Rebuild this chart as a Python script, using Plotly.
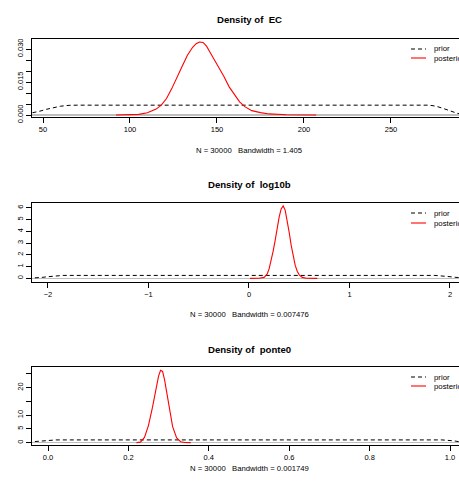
import plotly.graph_objects as go

# ---------------- data ----------------
# Panel 1: EC
ec_prior_x = [40, 44, 48, 52, 56, 60, 65, 70, 272, 276, 280, 284, 288, 292, 296]
ec_prior_y = [0.0004, 0.0009, 0.0017, 0.0026, 0.0034, 0.0040, 0.0044, 0.00448,
              0.00448, 0.0040, 0.0030, 0.0018, 0.0008, 0.0002, 0.0]
ec_post_x = [92, 100, 105, 110, 113, 115, 118, 121, 124, 127, 130, 133, 136, 138, 140,
             142, 144, 146, 148, 150, 152, 154, 157, 160, 163, 166, 170, 175, 180, 190, 207]
ec_post_y = [0.0, 0.0001, 0.0003, 0.0010, 0.0020, 0.0027, 0.0045, 0.0075, 0.0120, 0.0175,
             0.0222, 0.0272, 0.0308, 0.0324, 0.0332, 0.0330, 0.0313, 0.0285, 0.0258, 0.0234,
             0.0205, 0.0175, 0.0128, 0.0092, 0.0060, 0.0038, 0.0020, 0.0011, 0.0005, 0.0001, 0.0]

# Panel 2: log10b
lb_prior_x = [-2.2, -2.15, -2.1, -2.05, -2.0, -1.95, -1.9, -1.85,
              1.85, 1.9, 1.95, 2.0, 2.05, 2.1, 2.15, 2.2]
lb_prior_y = [0.0, 0.01, 0.04, 0.09, 0.14, 0.19, 0.23, 0.25,
              0.25, 0.23, 0.19, 0.14, 0.09, 0.04, 0.01, 0.0]
lb_post_x = [0.01, 0.10, 0.15, 0.18, 0.20, 0.22, 0.24, 0.26, 0.28, 0.30, 0.32, 0.34, 0.36,
             0.38, 0.40, 0.42, 0.44, 0.46, 0.48, 0.50, 0.53, 0.57, 0.68]
lb_post_y = [0.0, 0.005, 0.08, 0.35, 0.8, 1.5, 2.3, 3.2, 4.3, 5.2, 5.9, 6.15, 5.8,
             5.0, 3.9, 2.8, 1.8, 1.1, 0.6, 0.3, 0.08, 0.01, 0.0]

# Panel 3: ponte0
p0_prior_x = [-0.05, -0.04, -0.03, -0.02, -0.01, 0.0, 0.01, 0.02,
              0.98, 0.99, 1.0, 1.01, 1.02, 1.03, 1.04]
p0_prior_y = [0.2, 0.35, 0.5, 0.65, 0.8, 0.9, 0.97, 1.0,
              1.0, 0.95, 0.85, 0.65, 0.4, 0.2, 0.05]
p0_post_x = [0.22, 0.23, 0.24, 0.25, 0.26, 0.27, 0.275, 0.28, 0.285, 0.29, 0.30, 0.31,
             0.32, 0.33, 0.34, 0.355]
p0_post_y = [0.0, 0.2, 1.9, 6.3, 12.9, 21.0, 24.2, 26.3, 25.9, 22.8, 13.8, 5.8,
             1.7, 0.35, 0.05, 0.0]

titles = ["Density of\u00a0\u00a0EC", "Density of\u00a0\u00a0log10b", "Density of\u00a0\u00a0ponte0"]
xlabels = ["N = 30000\u00a0\u00a0\u00a0Bandwidth = 1.405",
           "N = 30000\u00a0\u00a0\u00a0Bandwidth = 0.007476",
           "N = 30000\u00a0\u00a0\u00a0Bandwidth = 0.001749"]

x1_ticks = [50, 100, 150, 200, 250]
x1_text = ["50", "100", "150", "200", "250"]
y1_ticks = [0.0, 0.005, 0.010, 0.015, 0.020, 0.025, 0.030]
y1_text = ["0.000", "", "", "0.015", "", "", "0.030"]

x2_ticks = [-2, -1, 0, 1, 2]
x2_text = ["\u22122", "\u22121", "0", "1", "2"]
y2_ticks = [0, 1, 2, 3, 4, 5, 6]
y2_text = ["0", "1", "2", "3", "4", "5", "6"]

x3_ticks = [0.0, 0.2, 0.4, 0.6, 0.8, 1.0]
x3_text = ["0.0", "0.2", "0.4", "0.6", "0.8", "1.0"]
y3_ticks = [0, 5, 10, 15, 20, 25]
y3_text = ["0", "5", "10", "", "20", ""]

legend_labels = ["prior", "posterior"]

# ---------------- layout helpers ----------------
W, H = 459, 482
L = 32
FONT = "Liberation Sans, Arial, Helvetica, sans-serif"
DASH = "4px,3px"


def px(xp):
    return (xp - L) / (W - L)


def py(yp):
    return 1 - yp / H


panels = [
    dict(px_=ec_prior_x, py_=ec_prior_y, qx=ec_post_x, qy=ec_post_y,
         xr=[43.68, 289.1], yr=[-0.0009, 0.03455], top=39, bot=117,
         xt=x1_ticks, xtt=x1_text, yt=y1_ticks, ytt=y1_text,
         title_y=20, xlab_y=150, leg_y=(49, 58)),
    dict(px_=lb_prior_x, py_=lb_prior_y, qx=lb_post_x, qy=lb_post_y,
         xr=[-2.159, 2.0896], yr=[-0.31, 6.4], top=203, bot=282,
         xt=x2_ticks, xtt=x2_text, yt=y2_ticks, ytt=y2_text,
         title_y=185, xlab_y=314, leg_y=(213, 223)),
    dict(px_=p0_prior_x, py_=p0_prior_y, qx=p0_post_x, qy=p0_post_y,
         xr=[-0.0398, 1.0224], yr=[-0.85, 27.5], top=367, bot=445,
         xt=x3_ticks, xtt=x3_text, yt=y3_ticks, ytt=y3_text,
         title_y=349, xlab_y=468, leg_y=(377, 386)),
]

fig = go.Figure()
layout = dict(
    width=W, height=H,
    margin=dict(l=L, r=0, t=0, b=0, pad=0),
    paper_bgcolor="white", plot_bgcolor="white",
    showlegend=False, template="none",
    font=dict(family=FONT, color="black", size=8),
)
annotations = []
shapes = []

for i, p in enumerate(panels, start=1):
    sfx = "" if i == 1 else str(i)
    xa, ya = "x" + sfx, "y" + sfx
    fig.add_trace(go.Scatter(x=p["px_"], y=p["py_"], mode="lines",
                             line=dict(color="black", width=1, dash=DASH),
                             xaxis=xa, yaxis=ya, name=legend_labels[0]))
    fig.add_trace(go.Scatter(x=p["qx"], y=p["qy"], mode="lines",
                             line=dict(color="#ff0000", width=1.1),
                             xaxis=xa, yaxis=ya, name=legend_labels[1]))
    layout["xaxis" + sfx] = dict(
        domain=[0, 1], anchor=ya, range=p["xr"], automargin=False,
        showline=True, linecolor="black", linewidth=1, mirror=True,
        ticks="outside", ticklen=5, tickwidth=1, tickcolor="black",
        tickvals=p["xt"], ticktext=p["xtt"], tickfont=dict(size=7.5, family=FONT),
        showgrid=False, zeroline=False,
    )
    layout["yaxis" + sfx] = dict(
        domain=[py(p["bot"]), py(p["top"])], anchor=xa, range=p["yr"], automargin=False,
        showline=True, linecolor="black", linewidth=1, mirror=False,
        ticks="outside", ticklen=5, tickwidth=1, tickcolor="black",
        tickvals=p["yt"], ticktext=p["ytt"], tickangle=-90,
        tickfont=dict(size=7.5, family=FONT),
        showgrid=False, zeroline=True, zerolinecolor="#bebebe", zerolinewidth=1.2,
    )
    annotations.append(dict(text="<b>" + titles[i - 1] + "</b>", x=px(249), y=py(p["title_y"]),
                            xref="paper", yref="paper", xanchor="center", yanchor="middle",
                            showarrow=False, font=dict(size=9.6, family=FONT)))
    annotations.append(dict(text=xlabels[i - 1], x=px(249), y=py(p["xlab_y"]),
                            xref="paper", yref="paper", xanchor="center", yanchor="middle",
                            showarrow=False, font=dict(size=7.7, family=FONT)))
    ly1, ly2 = p["leg_y"]
    shapes.append(dict(type="line", xref="paper", yref="paper",
                       x0=px(411), x1=px(426), y0=py(ly1), y1=py(ly1),
                       line=dict(color="black", width=1, dash=DASH)))
    shapes.append(dict(type="line", xref="paper", yref="paper",
                       x0=px(411), x1=px(426), y0=py(ly2), y1=py(ly2),
                       line=dict(color="#ff0000", width=1.1)))
    for lab, yy in zip(legend_labels, (ly1, ly2)):
        annotations.append(dict(text=lab, x=px(432), y=py(yy), xref="paper", yref="paper",
                                xanchor="left", yanchor="middle", showarrow=False,
                                font=dict(size=7.8, family=FONT)))

layout["annotations"] = annotations
layout["shapes"] = shapes
fig.update_layout(**layout)
fig.write_html("out.html",
               config={"displayModeBar": False, "staticPlot": True},
               post_script="document.body.style.margin='0';document.body.style.overflow='hidden';")
